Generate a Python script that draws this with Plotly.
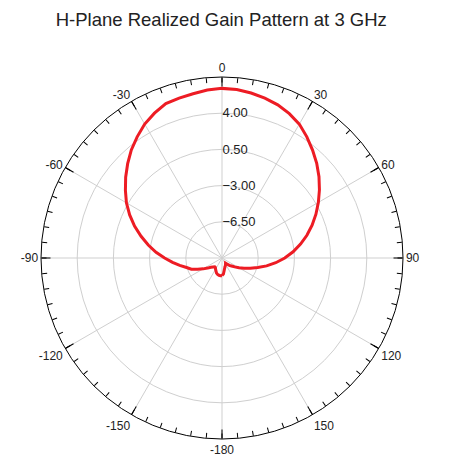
import plotly.graph_objects as go

# 方位角(度, 時計回り, 0=上) と 実現利得(dB)
ANGLE_DEG = [
    -180, -175, -170, -165, -160, -155, -150, -145, -140, -135,
    -130, -125, -120, -115, -110, -105, -100, -95, -90, -85,
    -80, -75, -70, -65, -60, -55, -50, -45, -40, -35,
    -30, -25, -20, -15, -10, -5, 0, 5, 10, 15,
    20, 25, 30, 35, 40, 45, 50, 55, 60, 65,
    70, 75, 80, 85, 90, 95, 100, 105, 110, 115,
    120, 125, 130, 135, 140, 145, 150, 155, 160, 165,
    170, 175, 180,
]
GAIN_DB = [
    -8.28, -8.28, -8.30, -8.35, -8.45, -8.62, -8.75, -8.88, -8.90, -8.78,
    -8.60, -8.30, -7.90, -7.40, -6.85, -6.45, -5.85, -5.20, -4.45, -3.60,
    -2.76, -1.90, -1.00, -0.15, 0.67, 1.40, 2.16, 2.90, 3.64, 4.30,
    4.95, 5.45, 5.88, 6.00, 6.12, 6.30, 6.40, 6.35, 6.20, 6.00,
    5.76, 5.40, 4.95, 4.30, 3.62, 2.95, 2.24, 1.50, 0.76, 0.02,
    -0.73, -1.50, -2.29, -3.10, -3.93, -4.78, -5.62, -6.42, -7.10, -7.65,
    -8.10, -8.50, -8.80, -9.00, -9.25, -9.40, -9.32, -9.22, -9.12, -9.00,
    -8.78, -8.45, -8.30,
]

# 軸の目盛り
R_TICKS = [-6.5, -3.0, 0.5, 4.0]
R_RANGE = [-10, 7.5]
MAJOR_VALS = [0, 30, 60, 90, 120, 150, 180, 210, 240, 270, 300, 330]
MAJOR_TEXT = ["0", "30", "60", "90", "120", "150", "-180", "-150", "-120", "-90", "-60", "-30"]
MINOR_VALS = list(range(0, 360, 5))

RED = "#ED1C24"
GRID = "#cfcfcf"
FONT = "Liberation Sans, Arial, sans-serif"
DOMAIN = dict(x=[0, 1], y=[0, 1])

fig = go.Figure()
fig.add_trace(go.Scatterpolar(
    r=GAIN_DB, theta=ANGLE_DEG, mode="lines",
    line=dict(color=RED, width=3), showlegend=False, subplot="polar"))
# 補助目盛り用の空トレース
fig.add_trace(go.Scatterpolar(r=[], theta=[], mode="lines", showlegend=False,
                              subplot="polar2"))

fig.update_layout(
    width=449, height=463,
    paper_bgcolor="white",
    font=dict(family=FONT, size=12, color="#222"),
    margin=dict(l=33, r=54, t=69, b=32),
    title=dict(text="H-Plane Realized Gain Pattern at 3 GHz", x=0.475, xanchor="center",
               yref="container", y=0.99, yanchor="top", pad=dict(t=0, b=0),
               font=dict(size=18.5, color="#222")),
    polar=dict(
        domain=DOMAIN,
        bgcolor="white",
        angularaxis=dict(direction="clockwise", rotation=90,
                         tickvals=MAJOR_VALS, ticktext=MAJOR_TEXT,
                         ticks="inside", ticklen=9, tickcolor="black",
                         showline=True, linecolor="black", linewidth=1,
                         gridcolor=GRID, gridwidth=1),
        radialaxis=dict(range=R_RANGE, tickvals=R_TICKS, tickformat=".2f",
                        angle=90, tickangle=90, side="clockwise",
                        showline=False, ticks="",
                        gridcolor=GRID, gridwidth=1,
                        tickfont=dict(size=13, color="#222")),
    ),
    polar2=dict(
        domain=DOMAIN,
        bgcolor="rgba(0,0,0,0)",
        angularaxis=dict(direction="clockwise", rotation=90,
                         tickvals=MINOR_VALS, showticklabels=False,
                         ticks="inside", ticklen=5, tickcolor="black",
                         showline=False, showgrid=False),
        radialaxis=dict(visible=False, range=R_RANGE),
    ),
)

fig.write_html("out.html")
